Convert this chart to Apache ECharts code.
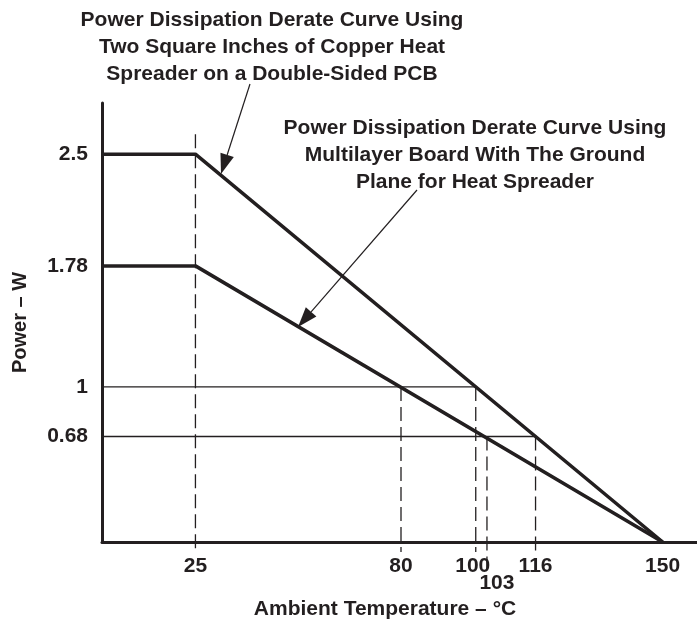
<!DOCTYPE html>
<html>
<head>
<meta charset="utf-8">
<title>Power Dissipation Derate Curves</title>
<script src="https://cdn.jsdelivr.net/npm/echarts@6/dist/echarts.min.js"></script>
<style>
  html, body { margin: 0; padding: 0; background: #fff; }
  #chart { width: 697px; height: 622px; }
</style>
</head>
<body>
<div id="chart"></div>
<script>
  // derate curves: temperature (°C) vs power (W)
  const curveTemps = [0, 25, 150];
  const copperPower = [2.5, 2.5, 0];      // 2 sq. in. copper, double-sided PCB
  const multilayerPower = [1.78, 1.78, 0]; // multilayer board, ground plane

  // axis labels
  const tempTicks = [25, 80, 100, 103, 116, 150];
  const powerTicks = [0.68, 1, 1.78, 2.5];

  // guide lines: horizontal power levels and where they meet the curves
  const levelPowers = [1, 0.68];
  const levelTemps = [100, 116];
  const dropTemps = [25, 80, 100, 103, 116];
  const dropPowers = [2.5, 1, 1, 0.68, 0.68];

  const ink = '#231f20';
  const font = 'Liberation Sans, Arial, Helvetica, sans-serif';

  const chart = echarts.init(document.getElementById('chart'));

  function pairs(xs, ys) {
    return xs.map((x, i) => [x, ys[i]]);
  }

  // arrow annotation: thin line plus filled head at (x2, y2)
  function arrow(x1, y1, x2, y2) {
    const a = Math.atan2(y2 - y1, x2 - x1);
    const len = 20, half = 7;
    const bx = x2 - len * Math.cos(a), by = y2 - len * Math.sin(a);
    const nx = -Math.sin(a) * half, ny = Math.cos(a) * half;
    return [
      { type: 'line', shape: { x1: x1, y1: y1, x2: bx, y2: by }, style: { stroke: ink, lineWidth: 1.2 } },
      { type: 'polygon', shape: { points: [[x2, y2], [bx + nx, by + ny], [bx - nx, by - ny]] }, style: { fill: ink } }
    ];
  }

  function note(cx, top, text) {
    return {
      type: 'text',
      x: cx,
      y: top,
      style: {
        text: text,
        textAlign: 'center',
        textVerticalAlign: 'top',
        fill: ink,
        font: 'bold 21px ' + font,
        lineHeight: 27
      }
    };
  }

  const levelSeries = levelPowers.map((p, i) => ({
    type: 'line',
    data: [[0, p], [levelTemps[i], p]],
    symbol: 'none',
    lineStyle: { color: ink, width: 1.3 },
    z: 2
  }));

  chart.setOption({
    animation: false,
    grid: { left: 102, top: 103, width: 598, bottom: 80, outerBoundsMode: 'none' },
    xAxis: {
      type: 'value',
      min: 0,
      max: 160,
      name: 'Ambient Temperature – °C',
      nameLocation: 'middle',
      nameGap: 56,
      nameTextStyle: { color: ink, fontFamily: font, fontWeight: 'bold', fontSize: 21, padding: [0, 32, 0, 0] },
      axisLine: { lineStyle: { color: ink, width: 3 } },
      axisTick: { show: false },
      splitLine: { show: false },
      axisLabel: {
        customValues: tempTicks,
        color: ink,
        fontFamily: font,
        fontWeight: 'bold',
        fontSize: 21,
        lineHeight: 17,
        margin: 16,
        formatter: v => (v === 103 ? '\n{low|' + v + '}' : v === 100 ? '{left|' + v + '}' : String(v)),
        rich: {
          low: { fontFamily: font, fontWeight: 'bold', fontSize: 21, color: ink, padding: [0, 0, 0, 20] },
          left: { fontFamily: font, fontWeight: 'bold', fontSize: 21, color: ink, padding: [0, 6, 0, 0] }
        }
      }
    },
    yAxis: {
      type: 'value',
      min: 0,
      max: 2.83,
      name: 'Power – W',
      nameLocation: 'middle',
      nameGap: 72,
      nameTextStyle: { color: ink, fontFamily: font, fontWeight: 'bold', fontSize: 20 },
      axisLine: { lineStyle: { color: ink, width: 3 } },
      axisTick: { show: false },
      splitLine: { show: false },
      axisLabel: {
        customValues: powerTicks,
        color: ink,
        fontFamily: font,
        fontWeight: 'bold',
        fontSize: 21,
        margin: 14
      }
    },
    series: [
      ...levelSeries,
      {
        type: 'custom',
        data: pairs(dropTemps, dropPowers),
        clip: false,
        z: 2,
        renderItem: function (params, api) {
          const t = api.value(0), p = api.value(1);
          const top = api.coord([t, p]);
          const base = api.coord([t, 0]);
          const above = p === 2.5 ? 20 : 0;
          const below = t === 103 ? 27 : 10;
          return {
            type: 'line',
            shape: { x1: top[0], y1: top[1] - above, x2: base[0], y2: base[1] + below },
            style: { stroke: ink, lineWidth: 1.3, lineDash: [14, 6] }
          };
        }
      },
      {
        name: 'Copper heat spreader',
        type: 'line',
        data: pairs(curveTemps, copperPower),
        symbol: 'none',
        lineStyle: { color: ink, width: 3.5 },
        z: 5
      },
      {
        name: 'Multilayer board',
        type: 'line',
        data: pairs(curveTemps, multilayerPower),
        symbol: 'none',
        lineStyle: { color: ink, width: 3.5 },
        z: 5
      }
    ],
    graphic: [
      note(272, 7, 'Power Dissipation Derate Curve Using\nTwo Square Inches of Copper Heat\nSpreader on a Double-Sided PCB'),
      note(475, 115, 'Power Dissipation Derate Curve Using\nMultilayer Board With The Ground\nPlane for Heat Spreader'),
      ...arrow(250, 84, 221, 174),
      ...arrow(417, 190, 298, 327)
    ]
  });
</script>
</body>
</html>
